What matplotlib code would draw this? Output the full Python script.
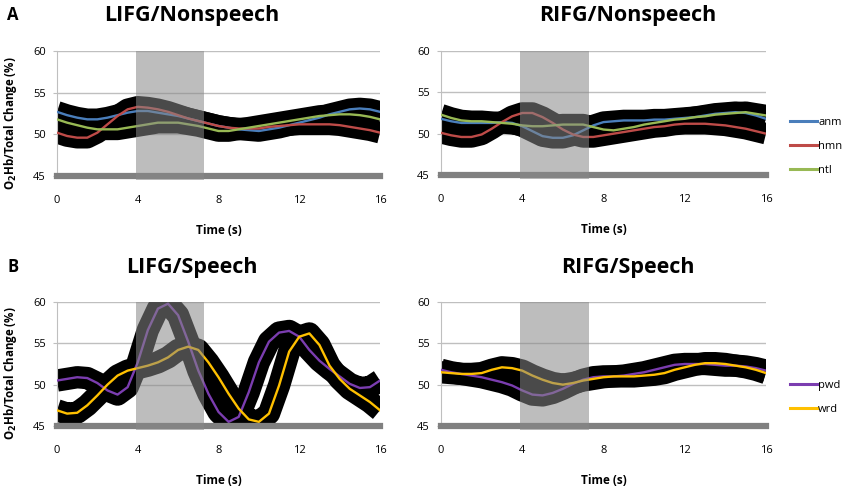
import numpy as np
import matplotlib
matplotlib.use('Agg')
import matplotlib.pyplot as plt

plt.rcParams['font.family'] = ['Open Sans', 'DejaVu Sans']
plt.rcParams['mathtext.fontset'] = 'dejavusans'

# time axis, 0.5 s steps
t = np.arange(0, 16.5, 0.5)

# LIFG / Nonspeech
lifg_anm = [52.7, 52.3, 52.0, 51.8, 51.8, 52.0, 52.3, 52.6, 52.8, 52.8, 52.6, 52.4, 52.2, 51.9, 51.6, 51.3, 51.0,
            50.8, 50.6, 50.5, 50.4, 50.6, 50.8, 51.1, 51.4, 51.7, 52.0, 52.4, 52.7, 53.0, 53.1, 53.0, 52.7]
lifg_hmn = [50.2, 49.8, 49.6, 49.6, 50.2, 51.2, 52.2, 53.0, 53.3, 53.2, 53.0, 52.7, 52.3, 51.9, 51.6, 51.3, 51.0,
            50.8, 50.7, 50.7, 50.7, 50.9, 51.0, 51.1, 51.2, 51.2, 51.2, 51.2, 51.1, 50.9, 50.7, 50.5, 50.2]
lifg_ntl = [51.8, 51.4, 51.1, 50.8, 50.6, 50.6, 50.6, 50.8, 51.0, 51.2, 51.4, 51.4, 51.4, 51.2, 51.0, 50.7, 50.4,
            50.4, 50.6, 50.8, 51.0, 51.2, 51.4, 51.6, 51.8, 52.0, 52.2, 52.3, 52.4, 52.4, 52.3, 52.1, 51.8]

# RIFG / Nonspeech
rifg_anm = [51.8, 51.5, 51.3, 51.3, 51.3, 51.3, 51.4, 51.3, 50.9, 50.3, 49.7, 49.5, 49.5, 49.8, 50.4, 51.0, 51.4,
            51.5, 51.6, 51.6, 51.6, 51.7, 51.7, 51.8, 51.9, 52.0, 52.2, 52.4, 52.5, 52.6, 52.5, 52.2, 51.8]
rifg_hmn = [50.1, 49.8, 49.6, 49.6, 49.9, 50.6, 51.4, 52.1, 52.5, 52.5, 52.0, 51.3, 50.5, 49.9, 49.6, 49.6, 49.8,
            50.0, 50.2, 50.4, 50.6, 50.8, 50.9, 51.1, 51.2, 51.2, 51.2, 51.1, 51.0, 50.8, 50.6, 50.3, 50.0]
rifg_ntl = [52.3, 51.9, 51.6, 51.5, 51.5, 51.4, 51.3, 51.2, 51.0, 50.9, 50.9, 51.0, 51.1, 51.1, 51.1, 50.8, 50.5,
            50.4, 50.6, 50.8, 51.1, 51.3, 51.5, 51.7, 51.8, 52.0, 52.1, 52.3, 52.4, 52.5, 52.6, 52.4, 52.2]

# LIFG / Speech
lifg_pwd = [50.5, 50.7, 50.9, 50.8, 50.2, 49.3, 48.8, 49.7, 52.7, 56.6, 59.2, 59.8, 58.4, 55.2, 51.7, 48.9, 46.7,
            45.5, 46.1, 49.1, 52.7, 55.2, 56.3, 56.5, 55.8, 54.2, 52.9, 51.9, 51.0, 50.1, 49.6, 49.7, 50.5]
lifg_wrd = [46.9, 46.5, 46.6, 47.5, 48.7, 50.0, 51.1, 51.7, 52.0, 52.3, 52.7, 53.3, 54.2, 54.6, 54.2, 52.7, 50.9,
            48.9, 47.1, 45.8, 45.5, 46.5, 49.9, 54.0, 55.8, 56.2, 54.8, 52.3, 50.7, 49.5, 48.7, 47.9, 46.9]

# RIFG / Speech
rifg_pwd = [51.8, 51.5, 51.3, 51.1, 50.9, 50.6, 50.3, 49.9, 49.3, 48.8, 48.7, 49.0, 49.5, 50.1, 50.6, 50.9, 51.0,
            51.0, 51.1, 51.3, 51.5, 51.8, 52.1, 52.4, 52.5, 52.5, 52.5, 52.4, 52.3, 52.3, 52.2, 52.0, 51.7]
rifg_wrd = [51.5, 51.4, 51.3, 51.3, 51.4, 51.8, 52.1, 52.0, 51.7, 51.1, 50.6, 50.2, 50.0, 50.2, 50.5, 50.7, 50.9,
            51.0, 51.0, 51.0, 51.1, 51.2, 51.4, 51.8, 52.1, 52.4, 52.6, 52.6, 52.5, 52.3, 52.1, 51.8, 51.4]

# standard error half-widths (drawn as black bands round each line)
err_nonspeech = 1.3
err_speech = 1.35

stim_on, stim_off = 3.9, 7.3

colors = {'anm': '#4A7EBB', 'hmn': '#BE4B48', 'ntl': '#98B954',
          'pwd': '#7B3DB0', 'wrd': '#FFC000'}

fig = plt.figure(figsize=(8.5, 4.93), dpi=100)

positions = [
    [57/850, 1 - 176/493, 323/850, 125/493],
    [441/850, 1 - 175/493, 325/850, 124/493],
    [57/850, 1 - 426/493, 323/850, 124/493],
    [441/850, 1 - 426/493, 325/850, 124/493],
]

panels = [
    ({'anm': lifg_anm, 'hmn': lifg_hmn, 'ntl': lifg_ntl}, err_nonspeech, False),
    ({'anm': rifg_anm, 'hmn': rifg_hmn, 'ntl': rifg_ntl}, err_nonspeech, True),
    ({'pwd': lifg_pwd, 'wrd': lifg_wrd}, err_speech, False),
    ({'pwd': rifg_pwd, 'wrd': rifg_wrd}, err_speech, True),
]

for pos, (series, err, show_leg) in zip(positions, panels):
    ax = fig.add_axes(pos)
    ax.set_xlim(0, 16)
    ax.set_ylim(45, 60)
    # band thickness: error in data units -> points, so it stays even on steep slopes
    px_per_unit = pos[3] * fig.get_figheight() * fig.dpi / 15.0
    band_lw = 2 * err * px_per_unit * 72.0 / fig.dpi
    for name, vals in series.items():
        ax.plot(t, vals, color='black', lw=band_lw, solid_capstyle='butt',
                solid_joinstyle='round', zorder=2)
    for name, vals in series.items():
        ax.plot(t, vals, color=colors[name], lw=1.7, label=name, zorder=3)
    ax.axvspan(stim_on, stim_off, ymin=-0.035, ymax=1.0, color='#888888', alpha=0.55,
               lw=0, zorder=5, clip_on=False)
    ax.axhline(45, color='#808080', lw=4.5, zorder=4, clip_on=False)
    for g in [50, 55, 60]:
        ax.axhline(g, color='#BFBFBF', lw=1.0, zorder=1)
    for s in ['top', 'right', 'bottom']:
        ax.spines[s].set_visible(False)
    ax.spines['left'].set_color('#BFBFBF')
    ax.spines['left'].set_linewidth(0.8)
    ax.set_xticks([0, 4, 8, 12, 16])
    ax.set_yticks([45, 50, 55, 60])
    ax.tick_params(axis='x', length=0, pad=14, labelsize=8)
    ax.tick_params(axis='y', length=3, width=0.8, color='#BFBFBF', pad=5, labelsize=8)
    ax.set_xlabel('Time (s)', fontsize=8.5, fontweight='bold', labelpad=13)
    if show_leg:
        ax.legend(loc='center left', bbox_to_anchor=(1.075, 0.23), frameon=False,
                  fontsize=8, handlelength=2.4, handletextpad=0.1, labelspacing=1.15,
                  borderpad=0, borderaxespad=0)
        for line in ax.get_legend().get_lines():
            line.set_linewidth(2.2)

# titles and panel letters
fig.text(192/850, 1 - 15/493, 'LIFG/Nonspeech', ha='center', va='center', fontsize=15.5, fontweight='bold')
fig.text(628/850, 1 - 15/493, 'RIFG/Nonspeech', ha='center', va='center', fontsize=15.5, fontweight='bold')
fig.text(192/850, 1 - 267/493, 'LIFG/Speech', ha='center', va='center', fontsize=15.5, fontweight='bold')
fig.text(628/850, 1 - 267/493, 'RIFG/Speech', ha='center', va='center', fontsize=15.5, fontweight='bold')
fig.text(13/850, 1 - 15/493, 'A', ha='center', va='center', fontsize=12, fontweight='bold')
fig.text(13/850, 1 - 267/493, 'B', ha='center', va='center', fontsize=12, fontweight='bold')

ylab = r'O$_\mathbf{2}$Hb/Total Change (%)'
fig.text(11/850, 1 - 123/493, ylab, rotation=90, ha='center', va='center', fontsize=8.3, fontweight='bold')
fig.text(11/850, 1 - 373/493, ylab, rotation=90, ha='center', va='center', fontsize=8.3, fontweight='bold')

fig.savefig('out.png', dpi=100)
